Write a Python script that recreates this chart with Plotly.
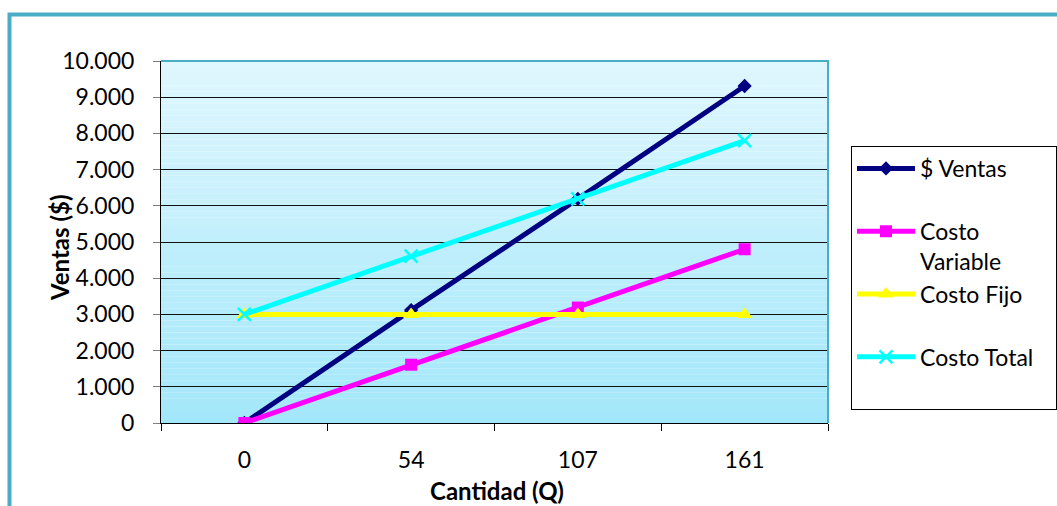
import plotly.graph_objects as go

cantidad = ["0", "54", "107", "161"]
ventas = [0, 3120, 6190, 9310]
costo_variable = [0, 1610, 3190, 4800]
costo_fijo = [3000, 3000, 3000, 3000]
costo_total = [3000, 4610, 6190, 7800]
y_ticks = list(range(0, 10001, 1000))

FONT = "Lato"

fig = go.Figure()
fig.add_trace(go.Scatter(
    x=cantidad, y=ventas, name="$ Ventas<br>&nbsp;", mode="lines+markers",
    line=dict(color="#000080", width=5),
    marker=dict(symbol="diamond", size=11, color="#000080")))
fig.add_trace(go.Scatter(
    x=cantidad, y=costo_variable, name="Costo<br>Variable", mode="lines+markers",
    line=dict(color="#FF00FF", width=5),
    marker=dict(symbol="square", size=12, color="#FF00FF")))
fig.add_trace(go.Scatter(
    x=cantidad, y=costo_fijo, name="Costo Fijo<br>&nbsp;", mode="lines+markers",
    line=dict(color="#FFFF00", width=5),
    marker=dict(symbol="triangle-up", size=14, color="#FFFF00")))
fig.add_trace(go.Scatter(
    x=cantidad, y=costo_total, name="Costo Total&nbsp;&nbsp;&nbsp;<br>&nbsp;", mode="lines+markers",
    line=dict(color="#00FFFF", width=5),
    marker=dict(symbol="x-thin", size=13, line=dict(color="#00FFFF", width=2.5))))

L, R, T, B = 161, 229, 61, 83
W, H = 1057, 506
pw, ph = W - L - R, H - T - B

def px_x(p):
    return (p - L) / pw

def px_y(p):
    return (H - B - p) / ph

shapes = []
# gradient plot background
n = 60
top = (0xE0, 0xF7, 0xFE)
bot = (0xA2, 0xE7, 0xFA)
for i in range(n):
    f = (i + 0.5) / n
    c = tuple(round(bot[k] + (top[k] - bot[k]) * f) for k in range(3))
    shapes.append(dict(type="rect", xref="paper", yref="paper",
                       x0=0, x1=1, y0=i / n, y1=(i + 1) / n,
                       fillcolor="rgb(%d,%d,%d)" % c, line=dict(width=0),
                       layer="below"))
# plot area top / right border
shapes.append(dict(type="path", xref="paper", yref="paper",
                   path="M 0 1 L 1 1 L 1 0", line=dict(color="#4BACC6", width=2),
                   layer="above"))
# outer frame
shapes.append(dict(type="rect", xref="paper", yref="paper",
                   x0=px_x(9.5), x1=px_x(1075), y0=px_y(14.5), y1=px_y(530),
                   line=dict(color="#4BACC6", width=4), fillcolor="rgba(0,0,0,0)"))

annotations = [
    dict(text="<b>Ventas ($)</b>", xref="paper", yref="paper",
         x=px_x(59), y=px_y(248), textangle=-90, showarrow=False,
         xanchor="center", yanchor="middle",
         font=dict(family=FONT, size=24, color="black")),
    dict(text="<b>Cantidad (Q)</b>", xref="paper", yref="paper",
         x=px_x(497), y=px_y(490), showarrow=False,
         xanchor="center", yanchor="middle",
         font=dict(family=FONT, size=24, color="black")),
]

fig.update_layout(
    width=W, height=H,
    margin=dict(l=L, r=R, t=T, b=B, autoexpand=False),
    paper_bgcolor="white", plot_bgcolor="rgba(0,0,0,0)",
    separators=",.",
    font=dict(family=FONT, size=23, color="black"),
    shapes=shapes,
    annotations=annotations,
    showlegend=True,
    legend=dict(x=px_x(851), xanchor="left", y=px_y(146), yanchor="top",
                bordercolor="black", borderwidth=1, bgcolor="white",
                font=dict(family=FONT, size=23, color="black"),
                valign="top", itemwidth=58, tracegroupgap=0),
    xaxis=dict(type="category", range=[-0.5, 3.5], showgrid=False,
               showline=True, linecolor="black", linewidth=1,
               ticks="outside", tickson="boundaries", ticklen=7, tickcolor="black",
               ticklabelstandoff=16,
               automargin=False),
    yaxis=dict(range=[0, 10000], tickvals=y_ticks, tickformat=",d",
               showgrid=True, gridcolor="#111111", gridwidth=1,
               showline=True, linecolor="black", linewidth=1,
               zeroline=False,
               ticks="outside", ticklen=7, tickcolor="#808080",
               ticklabelstandoff=14,
               automargin=False),
)

fig.write_html("out.html")
